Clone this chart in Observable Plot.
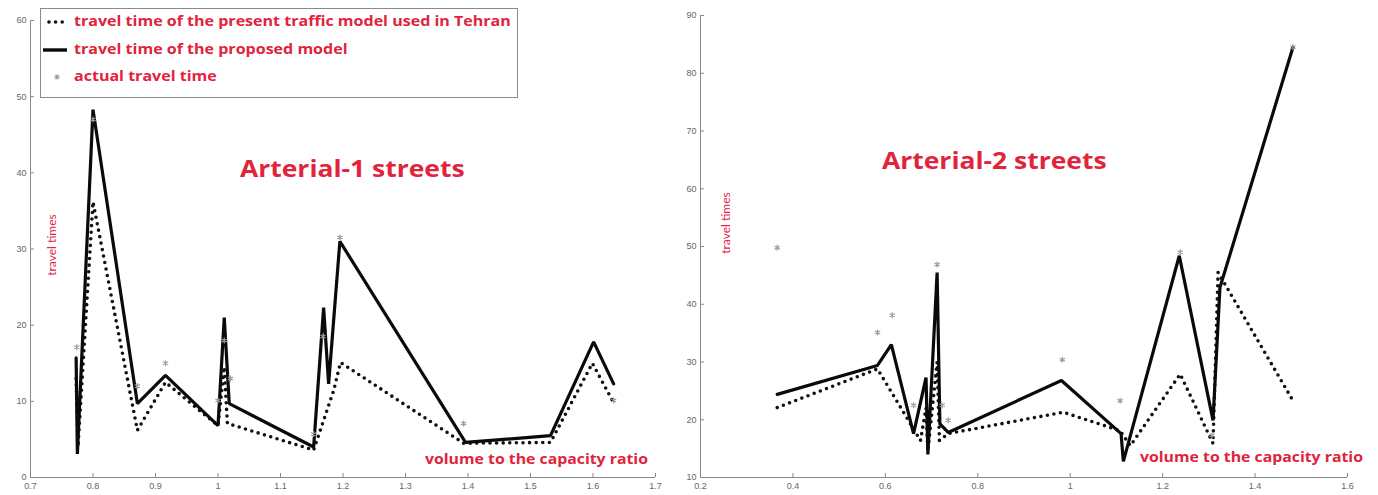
<!DOCTYPE html>
<html>
<head>
<meta charset="utf-8">
<script src="https://cdn.jsdelivr.net/npm/d3@7"></script>
<script src="https://cdn.jsdelivr.net/npm/@observablehq/plot@0.6"></script>
<style>
  html, body { margin: 0; padding: 0; background: #fff; }
  #wrap { position: relative; width: 1378px; height: 495px; overflow: hidden; background: #fff; }
  .panel { position: absolute; top: 0; }
  .red { position: absolute; color: #e0243c; font-family: "Open Sans", sans-serif; white-space: nowrap; line-height: 1; transform-origin: 0 0; }
  .title { font-weight: bold; font-size: 23px; transform: scaleX(1.15); }
  .xlab { font-weight: bold; font-size: 14px; transform: scaleX(1.13); }
  .ylab { font-size: 12px; transform: translate(-50%, -50%) rotate(-90deg); transform-origin: 50% 50%; font-family: Lato, sans-serif; }
  #legend { position: absolute; left: 40px; top: 8px; width: 476px; height: 88px; border: 1px solid #8a8a8a; background: #fff; }
  #legend .entry { position: absolute; left: 0; height: 20px; width: 470px; }
  #legend svg { position: absolute; left: 0; top: 0; }
  #legend .lt { position: absolute; left: 33px; top: 2px; color: #e0243c; font-family: "Open Sans", sans-serif; font-weight: bold; font-size: 14px; white-space: nowrap; line-height: 1; transform: scaleX(1.145); transform-origin: 0 0; }
</style>
</head>
<body>
<div id="wrap">
  <div id="left" class="panel" style="left:0"></div>
  <div id="right" class="panel" style="left:680px"></div>
</div>
<script>
// ---------- Arterial-1 streets (left panel) ----------
const a1XTicks = [0.7, 0.8, 0.9, 1, 1.1, 1.2, 1.3, 1.4, 1.5, 1.6, 1.7];
const a1YTicks = [0, 10, 20, 30, 40, 50, 60];
const a1ProposedX = [0.773, 0.775, 0.8, 0.871, 0.916, 1.0, 1.01, 1.018, 1.153, 1.169, 1.177, 1.195, 1.396, 1.532, 1.601, 1.633];
const a1ProposedY = [15.7, 3.1, 48.3, 9.7, 13.4, 6.8, 21.0, 9.7, 4.0, 22.3, 12.3, 31.0, 4.6, 5.5, 17.8, 12.3];
const a1PresentX = [0.773, 0.776, 0.8, 0.871, 0.916, 1.0, 1.01, 1.015, 1.153, 1.169, 1.185, 1.196, 1.393, 1.532, 1.599, 1.633];
const a1PresentY = [13.0, 4.0, 36.2, 6.2, 12.5, 6.8, 14.5, 7.1, 3.6, 7.5, 11.4, 15.1, 4.5, 4.6, 15.0, 9.8];
const a1ActualX = [0.774, 0.8, 0.871, 0.916, 1.0, 1.01, 1.02, 1.153, 1.168, 1.195, 1.393, 1.633];
const a1ActualY = [17.1, 47.0, 12.0, 15.0, 10.1, 18.0, 13.0, 5.7, 18.5, 31.5, 7.1, 10.1];

// ---------- Arterial-2 streets (right panel) ----------
const a2XTicks = [0.2, 0.4, 0.6, 0.8, 1, 1.2, 1.4, 1.6];
const a2YTicks = [10, 20, 30, 40, 50, 60, 70, 80, 90];
const a2ProposedX = [0.366, 0.583, 0.613, 0.661, 0.688, 0.692, 0.712, 0.718, 0.736, 0.981, 1.110, 1.115, 1.236, 1.309, 1.324, 1.482];
const a2ProposedY = [24.4, 29.4, 33.0, 17.6, 27.3, 14.0, 45.5, 19.3, 17.8, 26.8, 17.6, 12.8, 48.4, 19.9, 42.9, 84.5];
const a2PresentX = [0.366, 0.583, 0.676, 0.688, 0.692, 0.712, 0.717, 0.736, 0.985, 1.108, 1.13, 1.238, 1.309, 1.32, 1.482];
const a2PresentY = [22.1, 28.8, 16.4, 22.0, 14.5, 30.0, 16.4, 17.6, 21.3, 18.1, 15.5, 27.9, 15.9, 45.5, 23.3];
const a2ActualX = [0.366, 0.583, 0.615, 0.661, 0.712, 0.723, 0.736, 0.983, 1.108, 1.238, 1.307, 1.482];
const a2ActualY = [49.8, 35.1, 38.1, 22.5, 46.9, 22.5, 19.9, 30.4, 23.3, 49.0, 17.3, 84.5];

const labels = {
  present: "travel time of the present traffic model used in Tehran",
  proposed: "travel time of the proposed model",
  actual: "actual travel time",
  yLabel: "travel times",
  xLabel: "volume to the capacity ratio",
  title1: "Arterial-1 streets",
  title2: "Arterial-2 streets"
};

const zip = (xs, ys) => xs.map((x, i) => ({x, y: ys[i]}));

function panel({width, height, ml, mr, mt, mb, xDomain, yDomain, xTicks, yTicks, proposed, present, actual}) {
  const fw = width - ml - mr, fh = height - mt - mb;
  return Plot.plot({
    width, height,
    marginLeft: ml, marginRight: mr, marginTop: mt, marginBottom: mb,
    style: {fontFamily: "Liberation Sans, sans-serif", fontSize: "9px", color: "#666", background: "#fff", overflow: "visible"},
    x: {domain: xDomain},
    y: {domain: yDomain},
    marks: [
      Plot.axisX(xTicks, {tickSize: 0, tickPadding: 5, tickFormat: d => String(d), fill: "#666", label: null}),
      Plot.axisY(yTicks, {tickSize: 0, tickPadding: 4, tickFormat: d => String(d), fill: "#666", label: null}),
      Plot.tickX(xTicks, {x: d => d, stroke: "#888", insetTop: fh - 4}),
      Plot.tickY(yTicks, {y: d => d, stroke: "#888", insetRight: fw - 4}),
      Plot.ruleX([xDomain[0]], {stroke: "#888"}),
      Plot.ruleY([yDomain[0]], {stroke: "#888"}),
      Plot.line(present, {x: "x", y: "y", stroke: "#111", strokeWidth: 3.6, strokeDasharray: "0 6.6", strokeLinecap: "round", strokeLinejoin: "round"}),
      Plot.line(proposed, {x: "x", y: "y", stroke: "#0a0a0a", strokeWidth: 3.2, strokeLinejoin: "miter"}),
      Plot.dot(actual, {x: "x", y: "y", symbol: "asterisk", r: 2.8, stroke: "#9a9a9a", strokeWidth: 1.2})
    ]
  });
}

document.getElementById("left").append(panel({
  width: 680, height: 495, ml: 30, mr: 25, mt: 20, mb: 18,
  xDomain: [0.7, 1.7], yDomain: [0, 60], xTicks: a1XTicks, yTicks: a1YTicks,
  proposed: zip(a1ProposedX, a1ProposedY), present: zip(a1PresentX, a1PresentY), actual: zip(a1ActualX, a1ActualY)
}));
document.getElementById("right").append(panel({
  width: 698, height: 495, ml: 20, mr: 31, mt: 15, mb: 18,
  xDomain: [0.2, 1.6], yDomain: [10, 90], xTicks: a2XTicks, yTicks: a2YTicks,
  proposed: zip(a2ProposedX, a2ProposedY), present: zip(a2PresentX, a2PresentY), actual: zip(a2ActualX, a2ActualY)
}));

// ---------- text overlays ----------
const wrap = document.getElementById("wrap");
function addText(cls, text, css) {
  const d = document.createElement("div");
  d.className = "red " + cls;
  d.textContent = text;
  Object.assign(d.style, css);
  wrap.append(d);
  return d;
}
addText("title", labels.title1, {left: "240px", top: "157px"});
addText("title", labels.title2, {left: "882px", top: "149px"});
addText("xlab", labels.xLabel, {left: "425px", top: "452px"});
addText("xlab", labels.xLabel, {left: "1140px", top: "450px"});
addText("ylab", labels.yLabel, {left: "52px", top: "245px"});
addText("ylab", labels.yLabel, {left: "726px", top: "223px"});

// ---------- legend ----------
const legend = document.createElement("div");
legend.id = "legend";
const entries = [
  {key: "present", top: 3, svg: '<svg width="32" height="20"><line x1="8" y1="10" x2="24" y2="10" stroke="#111" stroke-width="3.6" stroke-dasharray="0 6.6" stroke-linecap="round"/></svg>'},
  {key: "proposed", top: 31, svg: '<svg width="32" height="20"><line x1="2" y1="10" x2="26" y2="10" stroke="#0a0a0a" stroke-width="3.4"/></svg>'},
  {key: "actual", top: 58, svg: '<svg width="32" height="20"><g stroke="#9a9a9a" stroke-width="1.2" transform="translate(16,10)"><line x1="-2.8" y1="0" x2="2.8" y2="0"/><line x1="-1.4" y1="-2.4" x2="1.4" y2="2.4"/><line x1="-1.4" y1="2.4" x2="1.4" y2="-2.4"/></g></svg>'}
];
for (const e of entries) {
  const row = document.createElement("div");
  row.className = "entry";
  row.style.top = e.top + "px";
  row.innerHTML = e.svg + '<span class="lt"></span>';
  row.querySelector(".lt").textContent = labels[e.key];
  legend.append(row);
}
wrap.append(legend);
</script>
</body>
</html>
